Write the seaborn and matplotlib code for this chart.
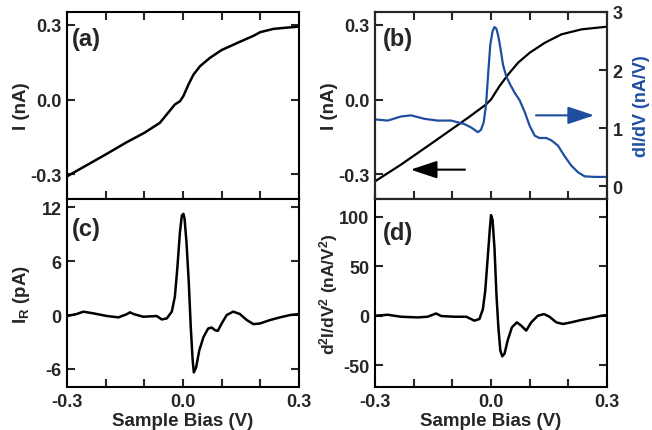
import numpy as np
import seaborn as sns
import matplotlib.pyplot as plt

# (a) I-V curve
bias_a = [-0.300, -0.258, -0.200, -0.146, -0.100, -0.060, -0.021, -0.008, 0.001,
          0.014, 0.027, 0.044, 0.070, 0.100, 0.147, 0.182, 0.200, 0.234, 0.268, 0.300]
cur_a = [-0.309, -0.272, -0.221, -0.172, -0.134, -0.094, -0.020, -0.007, 0.014,
         0.060, 0.100, 0.134, 0.168, 0.199, 0.232, 0.256, 0.271, 0.284, 0.289, 0.293]

# (b) I-V and dI/dV
bias_b = [-0.300, -0.233, -0.146, -0.060, -0.013, 0.000, 0.022, 0.044, 0.070,
          0.100, 0.139, 0.182, 0.234, 0.300]
cur_b = [-0.329, -0.262, -0.168, -0.074, -0.020, 0.000, 0.054, 0.100, 0.148,
         0.188, 0.228, 0.262, 0.282, 0.293]
bias_g = [-0.300, -0.267, -0.233, -0.207, -0.172, -0.138, -0.103, -0.069, -0.051,
          -0.034, -0.026, -0.019, -0.013, -0.007, -0.002, 0.004, 0.009, 0.014, 0.019,
          0.025, 0.031, 0.039, 0.048, 0.061, 0.074, 0.087, 0.100, 0.113, 0.125,
          0.143, 0.156, 0.173, 0.190, 0.207, 0.225, 0.242, 0.268, 0.300]
didv = [1.15, 1.13, 1.20, 1.22, 1.16, 1.13, 1.13, 1.07, 1.01,
        0.93, 0.97, 1.10, 1.39, 1.97, 2.43, 2.67, 2.74, 2.71, 2.58,
        2.35, 2.09, 1.90, 1.77, 1.61, 1.48, 1.28, 1.04, 0.87, 0.83,
        0.83, 0.79, 0.70, 0.52, 0.36, 0.24, 0.17, 0.16, 0.16]

# (c) I_R
bias_c = [-0.300, -0.275, -0.258, -0.232, -0.197, -0.167, -0.146, -0.137, -0.128,
          -0.103, -0.068, -0.055, -0.042, -0.029, -0.021, -0.015, -0.008, -0.003,
          0.001, 0.004, 0.009, 0.015, 0.020, 0.025, 0.028, 0.034, 0.042, 0.053,
          0.065, 0.074, 0.083, 0.090, 0.100, 0.113, 0.130, 0.147, 0.165, 0.182,
          0.199, 0.225, 0.251, 0.277, 0.300]
ir = [-0.11, 0.11, 0.37, 0.19, -0.11, -0.26, 0.08, 0.30, 0.11,
      -0.19, -0.11, -0.49, -0.38, 0.38, 2.06, 5.06, 9.19, 11.06,
      11.25, 10.70, 8.06, 3.56, -1.31, -5.06, -6.38, -5.80, -3.94, -2.44,
      -1.50, -1.39, -1.69, -1.76, -0.94, 0.00, 0.38, 0.11, -0.56, -1.01,
      -0.94, -0.56, -0.26, 0.00, 0.11]

# (d) d2I/dV2
bias_d = [-0.300, -0.267, -0.233, -0.190, -0.164, -0.142, -0.129, -0.095, -0.064,
          -0.043, -0.030, -0.021, -0.015, -0.008, -0.003, 0.000, 0.004, 0.009,
          0.014, 0.019, 0.024, 0.029, 0.035, 0.043, 0.054, 0.067, 0.078, 0.091,
          0.104, 0.121, 0.137, 0.151, 0.169, 0.186, 0.207, 0.233, 0.259, 0.285, 0.300]
d2 = [0.0, 1.0, -1.0, -1.7, -1.0, 2.3, -0.3, -1.0, -1.0,
      -5.0, -3.3, 6.7, 25.0, 61.7, 88.0, 101.7, 96.7, 68.0,
      21.7, -11.7, -35.0, -41.0, -38.3, -25.0, -11.7, -6.7, -10.0, -15.0,
      -6.7, 0.0, 1.7, -1.0, -6.7, -8.3, -6.7, -4.3, -2.3, 0.0, 0.7]

blue = '#1f4ea0'
xticks = [-0.3, -0.2, -0.1, 0.0, 0.1, 0.2, 0.3]
xticklabels = ['-0.3', '', '', '0.0', '', '', '0.3']

sns.set_style('ticks')
plt.rcParams['font.family'] = ['Liberation Sans', 'DejaVu Sans']
plt.rcParams['font.weight'] = 'bold'
plt.rcParams['axes.labelweight'] = 'bold'
plt.rcParams['axes.linewidth'] = 1.5
plt.rcParams['axes.unicode_minus'] = False
plt.rcParams['mathtext.fontset'] = 'custom'
plt.rcParams['mathtext.rm'] = 'Liberation Sans:bold'
plt.rcParams['mathtext.bf'] = 'Liberation Sans:bold'
plt.rcParams['mathtext.default'] = 'bf'

fig = plt.figure(figsize=(6.52, 4.31), dpi=100)
ax_a = fig.add_axes([0.1028, 0.5360, 0.3558, 0.4339])
ax_c = fig.add_axes([0.1028, 0.0998, 0.3558, 0.4362])
ax_b = fig.add_axes([0.5752, 0.5360, 0.3558, 0.4339])
ax_d = fig.add_axes([0.5752, 0.0998, 0.3558, 0.4362])


def style(ax, top=False, right=True):
    ax.set_xlim(-0.3, 0.3)
    ax.set_xticks(xticks)
    ax.tick_params(direction='in', length=6, width=1.5, labelsize=13,
                   top=top, right=right, pad=4)
    for s in ax.spines.values():
        s.set_visible(True)
        s.set_linewidth(1.5)
        s.set_color('black')


sns.lineplot(x=bias_a, y=cur_a, ax=ax_a, color='black', lw=1.8, sort=False)
style(ax_a, top=True)
ax_a.set_ylim(-0.40, 0.352)
ax_a.set_yticks([-0.3, 0.0, 0.3], ['-0.3', '0.0', '0.3'])
ax_a.set_xticklabels([])
ax_a.set_xlabel('')
ax_a.set_ylabel('I (nA)', fontsize=13.5)
ax_a.yaxis.set_label_coords(-0.16, 0.5)
ax_a.text(0.02, 0.92, '(a)', transform=ax_a.transAxes, fontsize=17,
          fontweight='bold', va='top', ha='left')

sns.lineplot(x=bias_c, y=ir, ax=ax_c, color='black', lw=1.8, sort=False)
style(ax_c)
ax_c.set_ylim(-8.0, 12.9)
ax_c.set_yticks([-6, 0, 6, 12])
ax_c.set_xticklabels(xticklabels)
ax_c.set_xlabel('Sample Bias (V)', fontsize=13.5, labelpad=2)
ax_c.set_ylabel(r'I$_\mathbf{R}$ (pA)', fontsize=13.5)
ax_c.yaxis.set_label_coords(-0.151, 0.5)
ax_c.text(0.02, 0.905, '(c)', transform=ax_c.transAxes, fontsize=17,
          fontweight='bold', va='top', ha='left')

sns.lineplot(x=bias_b, y=cur_b, ax=ax_b, color='black', lw=1.6, sort=False)
style(ax_b, top=True, right=False)
ax_b.set_ylim(-0.40, 0.352)
ax_b.set_yticks([-0.3, 0.0, 0.3], ['-0.3', '0.0', '0.3'])
ax_b.set_xticklabels([])
ax_b.set_xlabel('')
ax_b.set_ylabel('I (nA)', fontsize=13.5)
ax_b.yaxis.set_label_coords(-0.16, 0.5)
ax_b.text(0.034, 0.92, '(b)', transform=ax_b.transAxes, fontsize=17,
          fontweight='bold', va='top', ha='left')
ax_b.annotate('', xy=(-0.215, -0.282), xytext=(-0.06, -0.282),
              arrowprops=dict(arrowstyle='-|>,head_length=0.9,head_width=0.3',
                              color='black', lw=1.5, mutation_scale=18))

ax_g = ax_b.twinx()
sns.lineplot(x=bias_g, y=didv, ax=ax_g, color=blue, lw=1.6, sort=False)
ax_g.set_ylim(-0.22, 3.0)
ax_g.set_yticks([0, 1, 2, 3])
ax_g.tick_params(direction='in', length=6, width=1.5, labelsize=13, pad=4,
                 right=True, left=False)
ax_g.set_ylabel('dI/dV (nA/V)', fontsize=13, color=blue)
ax_g.yaxis.set_label_coords(1.112, 0.5)
ax_g.annotate('', xy=(0.274, 1.22), xytext=(0.109, 1.22),
              arrowprops=dict(arrowstyle='-|>,head_length=0.9,head_width=0.3',
                              color=blue, lw=1.5, mutation_scale=18))

sns.lineplot(x=bias_d, y=d2, ax=ax_d, color='black', lw=1.8, sort=False)
style(ax_d)
ax_d.set_ylim(-72, 118)
ax_d.set_yticks([-50, 0, 50, 100])
ax_d.set_xticklabels(xticklabels)
ax_d.set_xlabel('Sample Bias (V)', fontsize=13.5, labelpad=2)
ax_d.set_ylabel(r'd$^\mathbf{2}$I/dV$^\mathbf{2}$ (nA/V$^\mathbf{2}$)', fontsize=12.5)
ax_d.yaxis.set_label_coords(-0.151, 0.5)
ax_d.text(0.034, 0.883, '(d)', transform=ax_d.transAxes, fontsize=17,
          fontweight='bold', va='top', ha='left')

fig.savefig('out.png', dpi=100)
